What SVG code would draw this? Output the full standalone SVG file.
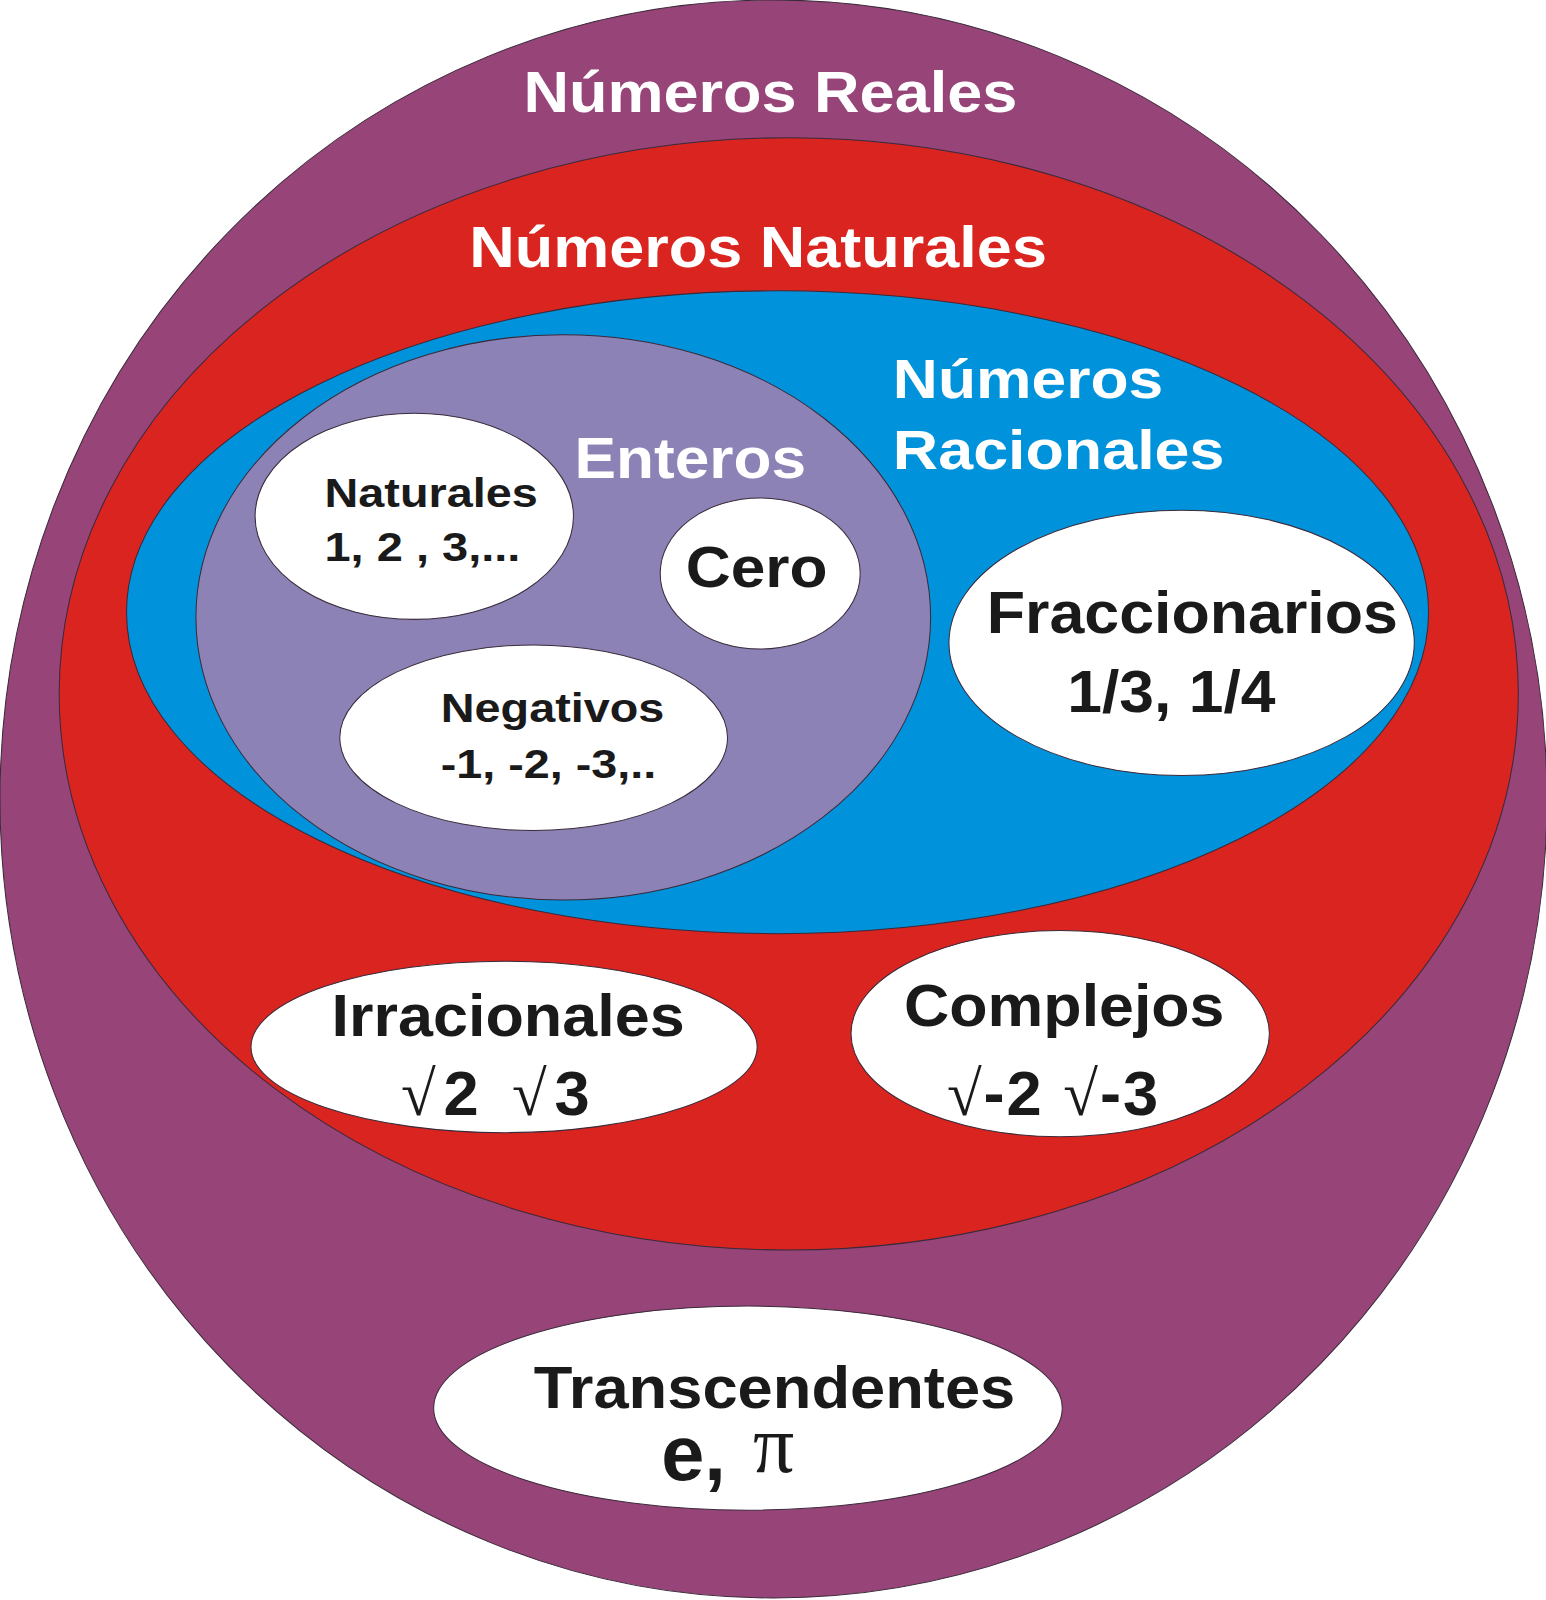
<svg xmlns="http://www.w3.org/2000/svg" width="1546" height="1600" viewBox="0 0 1546 1600">
<style>
.s{stroke:#3a2a3a;stroke-width:1}
.w{fill:#fff}
text{font-family:"Liberation Sans",Arial,sans-serif;font-weight:bold}
.lt{fill:#fff}
.dk{fill:#1a1a1a}
.r{font-family:"Liberation Serif","Times New Roman",serif;font-weight:normal}
</style>
<rect width="1546" height="1600" fill="#fff"/>
<g transform="scale(1.0204)">
<g id="reales"><ellipse class="s" cx="758" cy="783" rx="758" ry="783" fill="#974478"/>
<text class="lt" x="513" y="110" font-size="56" textLength="484" lengthAdjust="spacingAndGlyphs">Números Reales</text></g>
<g id="naturales-grande"><ellipse class="s" cx="773" cy="680" rx="715" ry="545" fill="#d9241f"/>
<text class="lt" x="460" y="262" font-size="56" textLength="566" lengthAdjust="spacingAndGlyphs">Números Naturales</text></g>
<g id="racionales"><ellipse class="s" cx="762" cy="600" rx="638" ry="315" fill="#0093dc"/>
<text class="lt" x="875" y="390" font-size="54" textLength="265" lengthAdjust="spacingAndGlyphs">Números</text>
<text class="lt" x="875" y="460" font-size="54" textLength="325" lengthAdjust="spacingAndGlyphs">Racionales</text></g>
<g id="enteros"><ellipse class="s" cx="552" cy="605" rx="360" ry="277" fill="#8d82b6"/>
<text class="lt" x="563" y="468" font-size="56" textLength="227" lengthAdjust="spacingAndGlyphs">Enteros</text></g>
<g id="naturales"><ellipse class="s w" cx="406" cy="506" rx="156" ry="101"/>
<text class="dk" x="318" y="497" font-size="40" textLength="209" lengthAdjust="spacingAndGlyphs">Naturales</text>
<text class="dk" x="318" y="550" font-size="40" textLength="192" lengthAdjust="spacingAndGlyphs">1, 2 , 3,...</text></g>
<g id="cero"><ellipse class="s w" cx="745" cy="562" rx="98" ry="74"/>
<text class="dk" x="672" y="575" font-size="56" textLength="139" lengthAdjust="spacingAndGlyphs">Cero</text></g>
<g id="negativos"><ellipse class="s w" cx="523" cy="723" rx="190" ry="91"/>
<text class="dk" x="432" y="708" font-size="40" textLength="219" lengthAdjust="spacingAndGlyphs">Negativos</text>
<text class="dk" x="432" y="762" font-size="40" textLength="211" lengthAdjust="spacingAndGlyphs">-1, -2, -3,..</text></g>
<g id="fraccionarios"><ellipse class="s w" cx="1158" cy="630" rx="228" ry="130"/>
<text class="dk" x="967" y="620" font-size="58" textLength="403" lengthAdjust="spacingAndGlyphs">Fraccionarios</text>
<text class="dk" x="1046" y="698" font-size="58" textLength="204" lengthAdjust="spacingAndGlyphs">1/3, 1/4</text></g>
<g id="irracionales"><ellipse class="s w" cx="494" cy="1026" rx="248" ry="84"/>
<text class="dk" x="325" y="1015" font-size="58" textLength="346" lengthAdjust="spacingAndGlyphs">Irracionales</text>
<text class="dk" x="393" y="1093" font-size="62" textLength="185" lengthAdjust="spacing"><tspan class="r">√</tspan>2  <tspan class="r">√</tspan>3</text></g>
<g id="complejos"><ellipse class="s w" cx="1039" cy="1013" rx="205" ry="101"/>
<text class="dk" x="886" y="1005" font-size="58" textLength="314" lengthAdjust="spacingAndGlyphs">Complejos</text>
<text class="dk" x="928" y="1093" font-size="62" textLength="207" lengthAdjust="spacing"><tspan class="r">√</tspan>-2 <tspan class="r">√</tspan>-3</text></g>
<g id="transcendentes"><ellipse class="s w" cx="733" cy="1380" rx="308" ry="100"/>
<text class="dk" x="523" y="1380" font-size="58" textLength="472" lengthAdjust="spacingAndGlyphs">Transcendentes</text>
<text class="dk" x="648" y="1450" font-size="76">e,</text>
<text class="dk r" x="738" y="1443" font-size="80">π</text></g>
</g>
<g id="connectors"/>
</svg>
